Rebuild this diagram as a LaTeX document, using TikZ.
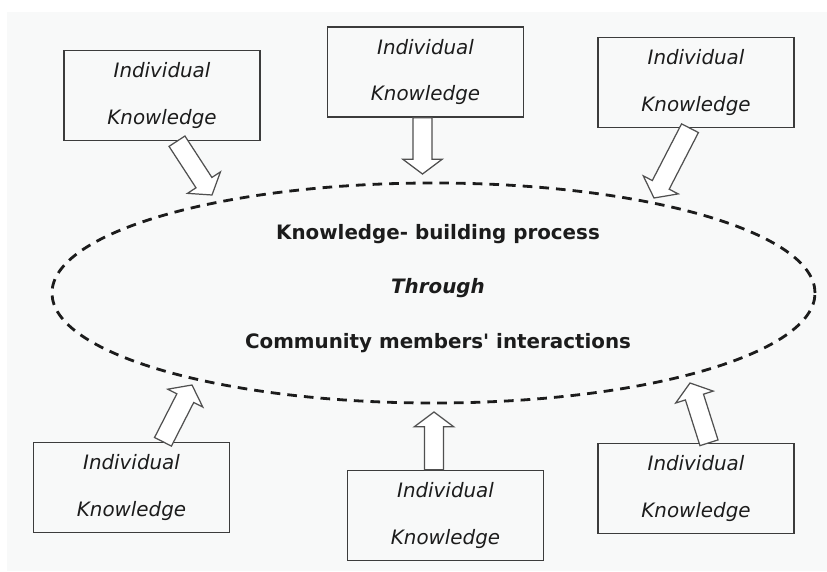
\documentclass[tikz,border=0pt]{standalone}
\usepackage{fontspec}
\setsansfont{DejaVu Sans}
\usepackage{tikz}
\usetikzlibrary{shapes.geometric,calc}

\definecolor{paper}{HTML}{F8F9F9}
\definecolor{boxline}{HTML}{3C3C3C}
\definecolor{arrowline}{HTML}{505050}
\definecolor{ink}{HTML}{1C1C1C}

% hollow block arrow from tail coordinate #1 to tip coordinate #2
% (distances are taken before the picture's scale=0.2)
\newcommand{\shaftw}{27pt}
\newcommand{\headw}{56pt}
\newcommand{\headlen}{42pt}
\newcommand{\blockarrow}[2]{%
  \coordinate (#2-base) at ($(#2)!\headlen!(#1)$);
  \draw [karrow] ($(#1)!\shaftw!90:(#2)$) -- ($(#2-base)!\shaftw!-90:(#1)$)
    -- ($(#2-base)!\headw!-90:(#1)$) -- (#2) -- ($(#2-base)!\headw!90:(#1)$)
    -- ($(#2-base)!\shaftw!90:(#1)$) -- ($(#1)!\shaftw!-90:(#2)$) -- cycle;}

\begin{document}
\begin{tikzpicture}[scale=0.2,
    kbox/.style={draw=boxline, line width=0.8pt, minimum width=3.92cm,
      minimum height=1.8cm, align=center, text=ink,
      font=\sffamily\itshape\fontsize{11.3}{13.6}\selectfont},
    karrow/.style={draw=arrowline, fill=white, line width=0.7pt, line join=miter},
    ring/.style={ellipse, draw=ink, line width=1.6pt,
      dash pattern=on 5.5pt off 4pt, minimum width=15.26cm, minimum height=4.4cm},
    proctext/.style={align=center, text=ink,
      font=\sffamily\bfseries\fontsize{11.3}{13.6}\selectfont}]
		\tikzstyle{every node}+=[inner sep=0pt]
		\useasboundingbox (0,0) rectangle (82.7,-57.1);
		\fill [paper] (0.7,-1.2) rectangle (82.7,-57.1);
		% the process in the middle
		\node [ring] (proc) at (43.35,-29.3) {};
		\node [proctext] (proclabel) at (43.8,-28.85)
			{Knowledge- building process\\[17.3pt]\textit{Through}\\[17.3pt]Community members\textquotesingle{} interactions};
		% individual knowledge boxes
		\node [kbox] (tl) at (16.2,-9.55) {Individual\\[13pt]Knowledge};
		\node [kbox] (tc) at (42.55,-7.2) {Individual\\[13pt]Knowledge};
		\node [kbox] (tr) at (69.6,-8.25) {Individual\\[13pt]Knowledge};
		\node [kbox] (bl) at (13.15,-48.75) {Individual\\[13pt]Knowledge};
		\node [kbox] (bc) at (44.55,-51.55) {Individual\\[13pt]Knowledge};
		\node [kbox] (br) at (69.6,-48.85) {Individual\\[13pt]Knowledge};
		% arrow ends
		\coordinate (tl-out) at ($(tl.south)+(1.5,0)$);
		\coordinate (tc-out) at ($(tc.south)+(-0.3,0)$);
		\coordinate (tr-out) at ($(tr.south)+(-0.6,0)$);
		\coordinate (bl-out) at ($(bl.north)+(3.15,0)$);
		\coordinate (bc-out) at ($(bc.north)+(-1.15,0)$);
		\coordinate (br-out) at ($(br.north)+(1.3,0)$);
		\coordinate (tl-in) at (21.2,-19.5);
		\coordinate (tc-in) at (42.25,-17.4);
		\coordinate (tr-in) at (65.4,-19.8);
		\coordinate (bl-in) at (19.2,-38.5);
		\coordinate (bc-in) at (43.4,-41.2);
		\coordinate (br-in) at (69.0,-38.3);
		\blockarrow{tl-out}{tl-in}
		\blockarrow{tc-out}{tc-in}
		\blockarrow{tr-out}{tr-in}
		\blockarrow{bl-out}{bl-in}
		\blockarrow{bc-out}{bc-in}
		\blockarrow{br-out}{br-in}
	\end{tikzpicture}
\end{document}
